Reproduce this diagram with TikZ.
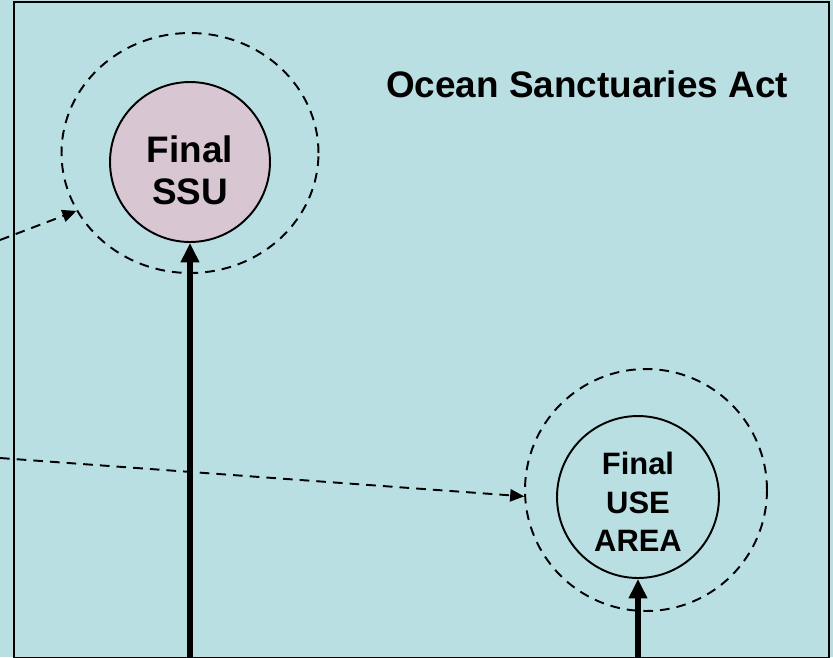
\documentclass[tikz,border=0pt]{standalone}
\usepackage{fontspec}
\setmainfont{Liberation Sans}
\usepackage{tikz}
\usetikzlibrary{shapes.geometric, arrows.meta, positioning}
\definecolor{sea}{HTML}{B9DFE3}
\definecolor{rose}{HTML}{D8C6D2}

\begin{document}
\begin{tikzpicture}[
    x=0.02cm, y=-0.02cm,
    final/.style={circle, draw=black, line width=1.1pt, minimum size=3.2cm, inner sep=0pt, align=center, font=\bfseries\fontsize{21}{24}\selectfont},
    zone/.style={ellipse, draw=black, line width=1.1pt, dash pattern=on 5.5pt off 4pt, inner sep=0pt},
    feed/.style={-{Triangle[length=8pt, width=7pt]}, line width=1.1pt, dash pattern=on 5.5pt off 4pt},
    lift/.style={-{Triangle[length=11pt, width=10pt]}, line width=3pt}
]
\useasboundingbox (0,0) rectangle (833,657);
\fill[sea] (0,0) rectangle (833,657);
\draw[line width=1.1pt] (14,2) rectangle (829,658);
\node[font=\bfseries\fontsize{21}{24}\selectfont] (title) at (587,84) {Ocean Sanctuaries Act};
\node[zone, minimum width=5.14cm, minimum height=4.8cm] (ssuzone) at (190,153) {};
\node[final, fill=rose] (ssu) at (190,162) {\rule{0pt}{0.86cm}Final\\SSU};
\node[zone, minimum width=4.84cm, minimum height=4.84cm] (usezone) at (646,490) {};
\node[final, minimum size=3.24cm, font=\bfseries\fontsize{17.6}{21.9}\selectfont] (usearea) at (638,497) {\rule{0pt}{0.65cm}Final\\USE\\AREA};
\coordinate (ssuin) at (0,240);
\coordinate (usein) at (0,458);
\coordinate (ssufoot) at (190,657);
\coordinate (usefoot) at (638,657);
\draw[feed] (ssuin) -- (ssuzone.207);
\draw[feed] (usein) -- (usezone.183);
\draw[lift] (ssufoot) -- (ssu);
\draw[lift] (usefoot) -- (usearea);
\end{tikzpicture}
\end{document}
